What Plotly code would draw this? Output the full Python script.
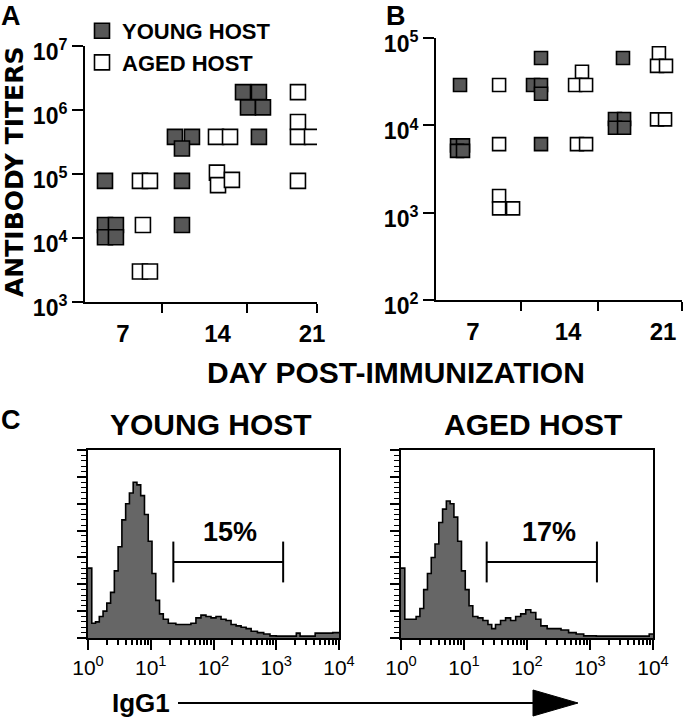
import plotly.graph_objects as go

W, H = 683, 719
FONT = "Liberation Sans"


def px(x):
    return x / W


def py(y):
    return 1 - y / H


# ---------------- Panel A: serum antibody titers ----------------
a_young_day = [5.67, 5.67, 6.48, 5.67, 6.48,
               10.85, 12.11, 11.37, 11.37, 11.37,
               15.89, 17.07, 16.26, 17.37, 17.07]
a_young_titer = [7.8e4, 1.6e4, 1.6e4, 1.03e4, 1.03e4,
                 3.8e5, 3.8e5, 2.5e5, 7.8e4, 1.6e4,
                 1.9e6, 1.9e6, 1.1e6, 1.1e6, 3.8e5]
a_aged_day = [8.26, 9.0, 8.48, 8.26, 9.0,
              13.89, 14.93, 13.96, 14.04, 15.07,
              19.96, 19.96, 19.96, 21.0, 19.96]
a_aged_titer = [7.8e4, 7.8e4, 1.6e4, 3.0e3, 3.0e3,
                3.8e5, 3.8e5, 1.05e5, 6.7e4, 8.1e4,
                1.9e6, 6.5e5, 3.8e5, 3.8e5, 7.8e4]

# ---------------- Panel B ----------------
b_young_day = [6.04, 5.82, 6.26, 5.82, 6.26,
               12.01, 11.42, 12.01, 12.01, 12.01,
               18.05, 17.46, 18.13, 17.46, 18.13]
b_young_titer = [2.9e4, 5.9e3, 5.9e3, 5.1e3, 5.1e3,
                 5.9e4, 2.9e4, 2.9e4, 2.3e4, 6.1e3,
                 5.9e4, 1.18e4, 1.18e4, 9.4e3, 9.4e3]
b_aged_day = [8.92, 8.92, 8.92, 8.92, 9.95,
              15.03, 14.52, 15.33, 14.66, 15.33,
              20.70, 20.56, 21.22, 20.56, 21.15]
b_aged_titer = [2.9e4, 6.1e3, 1.55e3, 1.12e3, 1.12e3,
                4.1e4, 2.9e4, 2.9e4, 6.1e3, 6.1e3,
                6.7e4, 4.8e4, 4.8e4, 1.17e4, 1.17e4]

day_ticks = [7, 14, 21]
day_labels = ["7", "14", "21"]
a_group_edges = [9.89, 16.19, 21.35]
b_group_edges = [10.54, 16.21, 22.38]

# ---------------- Panel C: IgG1 histograms (channel in decades) ----------------
young_ch = [0.00, 0.06, 0.12, 0.18, 0.24, 0.30, 0.36, 0.42, 0.48, 0.54, 0.60, 0.66,
            0.72, 0.78, 0.84, 0.90, 0.96, 1.02, 1.08, 1.14, 1.20, 1.28, 1.40, 1.52,
            1.64, 1.72, 1.80, 1.88, 1.96, 2.04, 2.12, 2.20, 2.28, 2.36, 2.44, 2.52,
            2.60, 2.70, 2.80, 2.90, 3.00, 3.20, 3.32, 3.38, 3.50, 3.62, 3.70, 3.80,
            3.90]
young_cnt = [26, 5.5, 6, 8, 10, 13, 17, 25, 34, 44, 50, 54,
             58, 57, 53, 46, 36, 24, 14, 9, 7, 5.5, 5, 5,
             5.5, 7.5, 8.5, 8, 7.5, 8, 7, 6.5, 5, 4.5, 4, 3.5,
             2.5, 2, 1.5, 0.8, 0.7, 0.7, 1.8, 0.7, 0.7, 1.8, 1.8, 1.8,
             2]
aged_ch = [0.00, 0.06, 0.12, 0.18, 0.24, 0.30, 0.36, 0.42, 0.48, 0.54, 0.60, 0.66,
           0.72, 0.78, 0.84, 0.90, 0.96, 1.02, 1.08, 1.14, 1.22, 1.30, 1.38, 1.44,
           1.50, 1.58, 1.66, 1.74, 1.82, 1.90, 1.98, 2.06, 2.14, 2.22, 2.32, 2.44,
           2.54, 2.66, 2.78, 2.90, 3.10, 3.50, 3.94]
aged_cnt = [26, 7, 7, 7, 8, 11, 18, 24, 30, 35, 43, 48,
            51, 50, 45, 36, 25, 18, 12, 8, 7.5, 6.5, 5, 3.5,
            5, 6.5, 7.5, 6.5, 8, 9, 10.5, 9.5, 7, 4.5, 3.5, 3.5,
            3, 2, 1.5, 0.8, 0.7, 0.7, 1.5]
gate_ch = [1.36, 3.11]
gate_level = 28.3
gate_half = 7.6
young_pct = "15%"
aged_pct = "17%"
pct_pos_young = 2.26
pct_pos_aged = 2.35
pct_level = 39.5

SQ = "#575757"
HIST = "#666666"

fig = go.Figure()

# Panel A
fig.add_trace(go.Scatter(x=a_young_day, y=a_young_titer, mode="markers", name="YOUNG HOST",
                         marker=dict(symbol="square", size=15, color=SQ,
                                     line=dict(color="black", width=1.6)),
                         xaxis="x", yaxis="y", legendrank=1))
fig.add_trace(go.Scatter(x=a_aged_day, y=a_aged_titer, mode="markers", name="AGED HOST",
                         marker=dict(symbol="square", size=15, color="white",
                                     line=dict(color="black", width=1.6)),
                         xaxis="x", yaxis="y", legendrank=2))
# Panel B
fig.add_trace(go.Scatter(x=b_young_day, y=b_young_titer, mode="markers", showlegend=False,
                         marker=dict(symbol="square", size=13, color=SQ,
                                     line=dict(color="black", width=1.6)),
                         xaxis="x2", yaxis="y2"))
fig.add_trace(go.Scatter(x=b_aged_day, y=b_aged_titer, mode="markers", showlegend=False,
                         marker=dict(symbol="square", size=13, color="white",
                                     line=dict(color="black", width=1.6)),
                         xaxis="x2", yaxis="y2"))


def hist_trace(ch, cnt, xa, ya):
    xs = [10 ** c for c in ch] + [1e4]
    ys = list(cnt) + [cnt[-1]]
    return go.Scatter(x=xs, y=ys, mode="lines", line_shape="hv", fill="tozeroy",
                      fillcolor=HIST, line=dict(color="black", width=1.6),
                      showlegend=False, xaxis=xa, yaxis=ya)


def gate_trace(xa, ya):
    lo, hi = 10 ** gate_ch[0], 10 ** gate_ch[1]
    xs = [lo, lo, None, lo, hi, None, hi, hi]
    ys = [gate_level - gate_half, gate_level + gate_half, None,
          gate_level, gate_level, None,
          gate_level - gate_half, gate_level + gate_half]
    return go.Scatter(x=xs, y=ys, mode="lines", line=dict(color="black", width=2),
                      showlegend=False, xaxis=xa, yaxis=ya)


fig.add_trace(hist_trace(young_ch, young_cnt, "x3", "y3"))
fig.add_trace(gate_trace("x3", "y3"))
fig.add_trace(hist_trace(aged_ch, aged_cnt, "x4", "y4"))
fig.add_trace(gate_trace("x4", "y4"))

bold = dict(family=FONT, color="black", weight="bold")


def titer_yaxis(domain, rng, anchor):
    vals = [10 ** k for k in range(rng[0], rng[1] + 1)]
    return dict(type="log", domain=domain, range=list(rng), anchor=anchor, automargin=False,
                tickvals=vals, ticktext=[f"10<sup>{k}</sup>" for k in range(rng[0], rng[1] + 1)],
                tickfont=dict(size=23, **bold), ticks="outside", ticklen=11, tickwidth=2,
                tickcolor="black", showline=True, linewidth=2, linecolor="black",
                ticklabelshift=6,
                showgrid=False, zeroline=False)


def day_xaxis(domain, rng, edges, anchor):
    return dict(domain=domain, range=rng, anchor=anchor, automargin=False,
                tickvals=day_ticks, ticktext=day_labels,
                tickfont=dict(size=24, **bold), ticks="outside", ticklen=9,
                tickcolor="rgba(0,0,0,0)", showline=True, linewidth=2, linecolor="black",
                showgrid=False, zeroline=False,
                minor=dict(tickvals=edges, ticks="outside", ticklen=9, tickwidth=2,
                           tickcolor="black", showgrid=False))


minor_log = [m * 10 ** d for d in range(4) for m in range(2, 10)]


def hist_xaxis(domain, anchor):
    return dict(type="log", domain=domain, range=[0, 4], anchor=anchor, automargin=False,
                tickvals=[1, 10, 100, 1000, 10000],
                ticktext=[f"10<sup>{k}</sup>" for k in range(5)],
                tickfont=dict(size=21, family=FONT, color="black"),
                ticks="outside", ticklen=10, tickwidth=1.5, tickcolor="black",
                showline=True, linewidth=2, linecolor="black", mirror=True,
                showgrid=False, zeroline=False,
                minor=dict(tickvals=minor_log, ticks="outside", ticklen=5, tickwidth=1.5,
                           tickcolor="black", showgrid=False))


def hist_yaxis(domain, anchor):
    return dict(domain=domain, range=[0, 70], anchor=anchor, tick0=0, dtick=10,
                automargin=False,
                showticklabels=False, ticks="outside", ticklen=9, tickwidth=1.5,
                tickcolor="black", showline=True, linewidth=2, linecolor="black",
                mirror=True, showgrid=False, zeroline=False,
                minor=dict(dtick=2, ticks="outside", ticklen=5, tickwidth=1,
                           tickcolor="black", showgrid=False))


annotations = [
    dict(text="A", x=px(11), y=py(16), font=dict(size=27, **bold)),
    dict(text="B", x=px(396), y=py(16), font=dict(size=27, **bold)),
    dict(text="C", x=px(11), y=py(420), font=dict(size=27, **bold)),
    dict(text="ANTIBODY TITERS", x=px(14), y=py(172), textangle=-90,
         font=dict(size=25, family="DejaVu Sans", color="black", weight="bold")),
    dict(text="DAY POST-IMMUNIZATION", x=px(396), y=py(372), font=dict(size=30, **bold)),
    dict(text="YOUNG HOST", x=px(211), y=py(424), font=dict(size=30, **bold)),
    dict(text="AGED HOST", x=px(533), y=py(424), font=dict(size=30, **bold)),
    dict(text="IgG1", x=px(141), y=py(703), font=dict(size=26, **bold)),
    dict(text=young_pct, x=pct_pos_young, y=pct_level, xref="x3", yref="y3",
         font=dict(size=27, **bold)),
    dict(text=aged_pct, x=pct_pos_aged, y=pct_level, xref="x4", yref="y4",
         font=dict(size=27, **bold)),
]
for a in annotations:
    a.setdefault("xref", "paper")
    a.setdefault("yref", "paper")
    a["showarrow"] = False
    a["xanchor"] = "center"
    a["yanchor"] = "middle"

shapes = [
    dict(type="line", xref="paper", yref="paper", x0=px(178), x1=px(540),
         y0=py(703), y1=py(703), line=dict(color="black", width=2.2)),
    dict(type="path", xref="paper", yref="paper", fillcolor="black",
         line=dict(color="black", width=1),
         path=f"M {px(533)},{py(690)} L {px(578)},{py(703)} L {px(533)},{py(716)} Z"),
]

fig.update_layout(
    template="none",
    width=W, height=H, margin=dict(l=0, r=0, t=0, b=0, autoexpand=False),
    paper_bgcolor="white", plot_bgcolor="white",
    font=dict(family=FONT, color="black"),
    xaxis=day_xaxis([px(85), px(317)], [4.19, 21.37], a_group_edges, "y"),
    yaxis=titer_yaxis([py(302), py(46)], (3, 7), "x"),
    xaxis2=day_xaxis([px(436), px(682)], [4.27, 22.4], b_group_edges, "y2"),
    yaxis2=titer_yaxis([py(300), py(38)], (2, 5), "x2"),
    xaxis3=hist_xaxis([px(88), px(339)], "y3"),
    yaxis3=hist_yaxis([py(638), py(450)], "x3"),
    xaxis4=hist_xaxis([px(401), px(653)], "y4"),
    yaxis4=hist_yaxis([py(638), py(450)], "x4"),
    legend=dict(x=px(82), y=py(10), xanchor="left", yanchor="top",
                font=dict(size=22, **bold), bgcolor="rgba(0,0,0,0)",
                itemwidth=30, tracegroupgap=0, itemsizing="trace"),
    annotations=annotations,
    shapes=shapes,
)

fig.write_html("out.html", config={"displayModeBar": False},
               post_script="document.body.style.margin='0px';"
                           "document.body.style.overflow='hidden';")
